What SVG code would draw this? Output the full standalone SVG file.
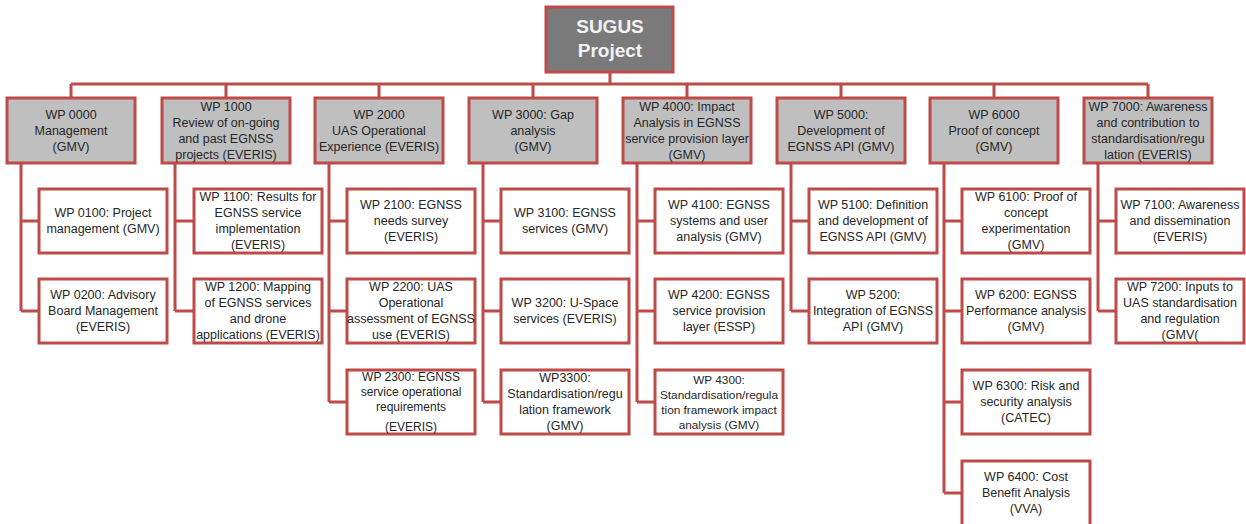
<svg xmlns="http://www.w3.org/2000/svg" width="1246" height="524" viewBox="0 0 1246 524">
<style>
.box{fill:#ffffff;stroke:#be4b48;stroke-width:3}
.l1{fill:#bfbfbf;stroke:#be4b48;stroke-width:3}
.root{fill:#7a7a7a;stroke:#be4b48;stroke-width:3}
.con{fill:none;stroke:#be4b48;stroke-width:3}
text{font-family:"Liberation Sans",Arial,sans-serif;font-size:12.5px;fill:#262626;text-anchor:middle}
.rt{font-size:19px;font-weight:bold;fill:#f2f2f2}
.sm{font-size:11.8px}
</style>
<rect width="1246" height="524" fill="#ffffff"/>
<g id="connectors">
<path class="con" d="M610 72V84M71 84H1148M71 84V98M226 84V98M379 84V98M533 84V98M687 84V98M841 84V98M994 84V98M1148 84V98"/>
<path class="con" d="M21 163V311M21 221H39M21 311H39"/>
<path class="con" d="M175 163V311M175 221H194M175 311H194"/>
<path class="con" d="M329 163V402M329 221H347M329 311H347M329 402H347"/>
<path class="con" d="M483 163V402M483 221H501M483 311H501M483 402H501"/>
<path class="con" d="M637 163V402M637 221H655M637 311H655M637 402H655"/>
<path class="con" d="M791 163V311M791 221H809M791 311H809"/>
<path class="con" d="M944 163V493M944 221H962M944 311H962M944 402H962M944 493H962"/>
<path class="con" d="M1098 163V311M1098 221H1116M1098 311H1116"/>
</g>
<g id="root"><rect class="root" x="546" y="7" width="127" height="65"/>
<text class="rt" x="610" y="33">SUGUS</text><text class="rt" x="610" y="57">Project</text></g>

<g id="wp0000"><rect class="l1" x="7" y="98" width="128" height="65"/>
<text x="71" y="118.5">WP 0000<tspan x="71" dy="16">Management</tspan><tspan x="71" dy="16">(GMV)</tspan></text></g>
<g id="wp1000"><rect class="l1" x="162" y="98" width="128" height="65"/>
<text x="226" y="110.5">WP 1000<tspan x="226" dy="16">Review  of on-going</tspan><tspan x="226" dy="16">and past EGNSS</tspan><tspan x="226" dy="16">projects (EVERIS)</tspan></text></g>
<g id="wp2000"><rect class="l1" x="315" y="98" width="128" height="65"/>
<text x="379" y="118.5">WP 2000<tspan x="379" dy="16">UAS Operational</tspan><tspan x="379" dy="16">Experience  (EVERIS)</tspan></text></g>
<g id="wp3000"><rect class="l1" x="469" y="98" width="128" height="65"/>
<text x="533" y="118.5">WP 3000: Gap<tspan x="533" dy="16">analysis</tspan><tspan x="533" dy="16">(GMV)</tspan></text></g>
<g id="wp4000"><rect class="l1" x="623" y="98" width="128" height="65"/>
<text x="687" y="110.5">WP 4000: Impact<tspan x="687" dy="16">Analysis in EGNSS</tspan><tspan x="687" dy="16">service provision layer</tspan><tspan x="687" dy="16">(GMV)</tspan></text></g>
<g id="wp5000"><rect class="l1" x="777" y="98" width="128" height="65"/>
<text x="841" y="118.5">WP 5000:<tspan x="841" dy="16">Development of</tspan><tspan x="841" dy="16">EGNSS API (GMV)</tspan></text></g>
<g id="wp6000"><rect class="l1" x="930" y="98" width="128" height="65"/>
<text x="994" y="118.5">WP 6000<tspan x="994" dy="16">Proof of concept</tspan><tspan x="994" dy="16">(GMV)</tspan></text></g>
<g id="wp7000"><rect class="l1" x="1084" y="98" width="128" height="65"/>
<text x="1148" y="110.5">WP 7000: Awareness<tspan x="1148" dy="16">and contribution to</tspan><tspan x="1148" dy="16">standardisation/regu</tspan><tspan x="1148" dy="16">lation (EVERIS)</tspan></text></g>

<g id="wp0100"><rect class="box" x="39" y="189" width="128" height="64"/>
<text x="103" y="217">WP 0100: Project<tspan x="103" dy="16">management (GMV)</tspan></text></g>
<g id="wp0200"><rect class="box" x="39" y="279" width="128" height="64"/>
<text x="103" y="299">WP 0200: Advisory<tspan x="103" dy="16">Board Management</tspan><tspan x="103" dy="16">(EVERIS)</tspan></text></g>
<g id="wp1100"><rect class="box" x="194" y="189" width="128" height="64"/>
<text x="258" y="201">WP 1100: Results for<tspan x="258" dy="16">EGNSS service</tspan><tspan x="258" dy="16">implementation</tspan><tspan x="258" dy="16">(EVERIS)</tspan></text></g>
<g id="wp1200"><rect class="box" x="194" y="279" width="128" height="64"/>
<text x="258" y="291">WP 1200: Mapping<tspan x="258" dy="16">of EGNSS services</tspan><tspan x="258" dy="16">and drone</tspan><tspan x="258" dy="16">applications (EVERIS)</tspan></text></g>
<g id="wp2100"><rect class="box" x="347" y="189" width="128" height="64"/>
<text x="411" y="209">WP 2100: EGNSS<tspan x="411" dy="16">needs survey</tspan><tspan x="411" dy="16">(EVERIS)</tspan></text></g>
<g id="wp2200"><rect class="box" x="347" y="279" width="128" height="64"/>
<text x="411" y="291">WP 2200: UAS<tspan x="411" dy="16">Operational</tspan><tspan x="411" dy="16">assessment of EGNSS</tspan><tspan x="411" dy="16">use (EVERIS)</tspan></text></g>
<g id="wp2300"><rect class="box" x="347" y="370" width="128" height="64"/>
<text x="411" y="381" style="font-size:12px">WP 2300: EGNSS<tspan x="411" dy="15">service operational</tspan><tspan x="411" dy="15">requirements</tspan><tspan x="411" dy="20">(EVERIS)</tspan></text></g>
<g id="wp3100"><rect class="box" x="501" y="189" width="128" height="64"/>
<text x="565" y="217">WP 3100: EGNSS<tspan x="565" dy="16">services (GMV)</tspan></text></g>
<g id="wp3200"><rect class="box" x="501" y="279" width="128" height="64"/>
<text x="565" y="307">WP 3200: U-Space<tspan x="565" dy="16">services (EVERIS)</tspan></text></g>
<g id="wp3300"><rect class="box" x="501" y="370" width="128" height="64"/>
<text x="565" y="382">WP3300:<tspan x="565" dy="16">Standardisation/regu</tspan><tspan x="565" dy="16">lation framework</tspan><tspan x="565" dy="16">(GMV)</tspan></text></g>
<g id="wp4100"><rect class="box" x="655" y="189" width="128" height="64"/>
<text x="719" y="209">WP 4100: EGNSS<tspan x="719" dy="16">systems and user</tspan><tspan x="719" dy="16">analysis (GMV)</tspan></text></g>
<g id="wp4200"><rect class="box" x="655" y="279" width="128" height="64"/>
<text x="719" y="299">WP 4200: EGNSS<tspan x="719" dy="16">service provision</tspan><tspan x="719" dy="16">layer (ESSP)</tspan></text></g>
<g id="wp4300"><rect class="box" x="655" y="370" width="128" height="64"/>
<text class="sm" x="719" y="383.5">WP 4300:<tspan x="719" dy="15">Standardisation/regula</tspan><tspan x="719" dy="15">tion framework impact</tspan><tspan x="719" dy="15">analysis (GMV)</tspan></text></g>
<g id="wp5100"><rect class="box" x="809" y="189" width="128" height="64"/>
<text x="873" y="209">WP 5100: Definition<tspan x="873" dy="16">and development of</tspan><tspan x="873" dy="16">EGNSS API (GMV)</tspan></text></g>
<g id="wp5200"><rect class="box" x="809" y="279" width="128" height="64"/>
<text x="873" y="299">WP 5200:<tspan x="873" dy="16">Integration of EGNSS</tspan><tspan x="873" dy="16">API (GMV)</tspan></text></g>
<g id="wp6100"><rect class="box" x="962" y="189" width="128" height="64"/>
<text x="1026" y="201">WP 6100: Proof of<tspan x="1026" dy="16">concept</tspan><tspan x="1026" dy="16">experimentation</tspan><tspan x="1026" dy="16">(GMV)</tspan></text></g>
<g id="wp6200"><rect class="box" x="962" y="279" width="128" height="64"/>
<text x="1026" y="299">WP 6200: EGNSS<tspan x="1026" dy="16">Performance analysis</tspan><tspan x="1026" dy="16">(GMV)</tspan></text></g>
<g id="wp6300"><rect class="box" x="962" y="370" width="128" height="64"/>
<text x="1026" y="390">WP 6300: Risk and<tspan x="1026" dy="16">security analysis</tspan><tspan x="1026" dy="16">(CATEC)</tspan></text></g>
<g id="wp6400"><rect class="box" x="962" y="461" width="128" height="66"/>
<text x="1026" y="481">WP 6400: Cost<tspan x="1026" dy="16">Benefit Analysis</tspan><tspan x="1026" dy="16">(VVA)</tspan></text></g>
<g id="wp7100"><rect class="box" x="1116" y="189" width="128" height="64"/>
<text x="1180" y="209">WP 7100: Awareness<tspan x="1180" dy="16">and dissemination</tspan><tspan x="1180" dy="16">(EVERIS)</tspan></text></g>
<g id="wp7200"><rect class="box" x="1116" y="279" width="128" height="64"/>
<text x="1180" y="291">WP 7200: Inputs to<tspan x="1180" dy="16">UAS standardisation</tspan><tspan x="1180" dy="16">and regulation</tspan><tspan x="1180" dy="16">(GMV(</tspan></text></g>
</svg>
